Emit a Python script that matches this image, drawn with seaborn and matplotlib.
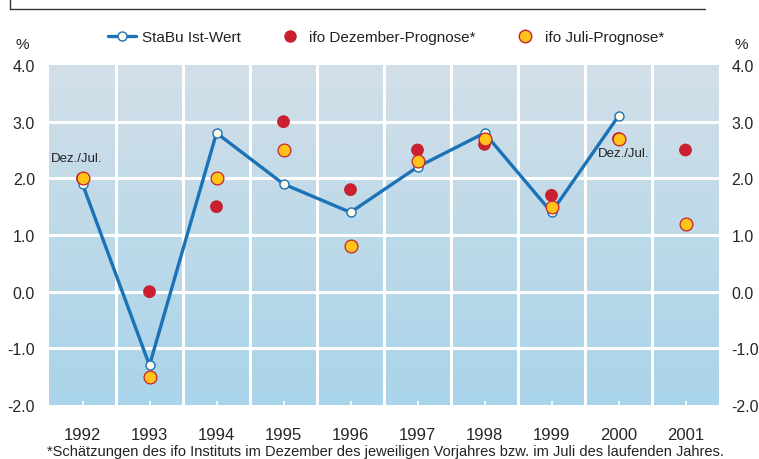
import numpy as np
import pandas as pd
import matplotlib
matplotlib.use("Agg")
import matplotlib.pyplot as plt
from matplotlib.lines import Line2D
from matplotlib.colors import LinearSegmentedColormap
import seaborn as sns

years = ["1992", "1993", "1994", "1995", "1996", "1997", "1998", "1999", "2000", "2001"]
ist_wert = [1.9, -1.3, 2.8, 1.9, 1.4, 2.2, 2.8, 1.4, 3.1, np.nan]
dez_prognose = [2.0, 0.0, 1.5, 3.0, 1.8, 2.5, 2.6, 1.7, 2.7, 2.5]
juli_prognose = [2.0, -1.5, 2.0, 2.5, 0.8, 2.3, 2.7, 1.5, 2.7, 1.2]
y_ticks = [-2.0, -1.0, 0.0, 1.0, 2.0, 3.0, 4.0]

BLUE = "#1b72b6"
RED = "#c8202f"
YELLOW = "#fec419"
CREAM = "#fffbea"

sns.set_theme(style="white")
plt.rcParams["font.family"] = ["Liberation Sans", "DejaVu Sans"]
plt.rcParams["text.color"] = "#222222"

df = pd.DataFrame({"x": np.arange(len(years)), "ist": ist_wert,
                   "dez": dez_prognose, "jul": juli_prognose})

fig = plt.figure(figsize=(7.59, 4.60), dpi=100)
ax = fig.add_axes([49 / 759, 1 - 406 / 460, 670 / 759, 340 / 460])

# background gradient
cmap = LinearSegmentedColormap.from_list("bg", ["#a9d4ea", "#d2dfe8"])
grad = np.linspace(0, 1, 256).reshape(-1, 1)
ax.imshow(grad, cmap=cmap, origin="lower", aspect="auto",
          extent=(-0.5, 9.5, -2, 4), zorder=0)

for v in y_ticks[1:-1]:
    ax.axhline(v, color="white", linewidth=2.2, zorder=1)
for b in np.arange(0.5, 9.5, 1):
    ax.axvline(b, color="white", linewidth=2.2, zorder=1)

sns.lineplot(data=df, x="x", y="ist", ax=ax, color=BLUE, linewidth=2.4,
             marker="o", markersize=6.5, markerfacecolor=CREAM,
             markeredgecolor=BLUE, markeredgewidth=1.0, zorder=3)
sns.scatterplot(data=df, x="x", y="dez", ax=ax, color=RED, s=85,
                edgecolor="none", zorder=4)
sns.scatterplot(data=df, x="x", y="jul", ax=ax, color=YELLOW, s=85,
                edgecolor=RED, linewidth=0.9, zorder=5)

ax.set_xlim(-0.5, 9.5)
ax.set_ylim(-2, 4)
ax.set_xticks(range(len(years)))
ax.set_xticklabels(years, fontsize=12)
ax.set_yticks(y_ticks)
ax.set_yticklabels([f"{v:.1f}" for v in y_ticks], fontsize=11.5)
ax.tick_params(axis="x", direction="in", length=3, width=1.2, color="white",
               pad=16, bottom=True)
ax.tick_params(axis="y", length=0, pad=10, left=True, right=False)
ax.set_xlabel("")
ax.set_ylabel("")
for s in ax.spines.values():
    s.set_visible(False)

ax2 = ax.twinx()
ax2.set_ylim(-2, 4)
ax2.set_yticks(y_ticks)
ax2.set_yticklabels([f"{v:.1f}" for v in y_ticks], fontsize=11.5)
ax2.tick_params(axis="y", length=0, pad=9)
for s in ax2.spines.values():
    s.set_visible(False)

ax.annotate("Dez./Jul.", (0, 2.0), xytext=(-23, 15), textcoords="offset points",
            fontsize=9.5, ha="left", va="center", zorder=6)
ax.annotate("Dez./Jul.", (8, 2.7), xytext=(-15, -10), textcoords="offset points",
            fontsize=9.5, ha="left", va="center", zorder=6)

fig.text(22 / 759, 1 - 45 / 460, "%", fontsize=11, ha="center", va="center")
fig.text(741 / 759, 1 - 45 / 460, "%", fontsize=11, ha="center", va="center")

handles = [
    Line2D([], [], color=BLUE, linewidth=2.4, marker="o", markersize=6.5,
           markerfacecolor=CREAM, markeredgecolor=BLUE),
    Line2D([], [], linestyle="none", marker="o", markersize=9,
           markerfacecolor=RED, markeredgecolor="none"),
    Line2D([], [], linestyle="none", marker="o", markersize=9,
           markerfacecolor=YELLOW, markeredgecolor=RED),
]
fig.legend(handles, ["StaBu Ist-Wert", "ifo Dezember-Prognose*", "ifo Juli-Prognose*"],
           loc="center", bbox_to_anchor=(386 / 759, 1 - 38 / 460), ncol=3,
           frameon=False, fontsize=11, handlelength=1.8, columnspacing=2.3,
           handletextpad=0.4)

fig.text(385 / 759, 1 - 452 / 460,
         "*Schätzungen des ifo Instituts im Dezember des jeweiligen Vorjahres bzw. im Juli des laufenden Jahres.",
         fontsize=10.5, ha="center", va="center")

# frame remains of the box above
fig.add_artist(Line2D([10 / 759, 705 / 759], [1 - 10 / 460, 1 - 10 / 460],
                      color="#333333", linewidth=1.0))
fig.add_artist(Line2D([10 / 759, 10 / 759], [1 - 10 / 460, 1.0],
                      color="#333333", linewidth=1.0))

fig.savefig("out.png", dpi=100, facecolor="white")
